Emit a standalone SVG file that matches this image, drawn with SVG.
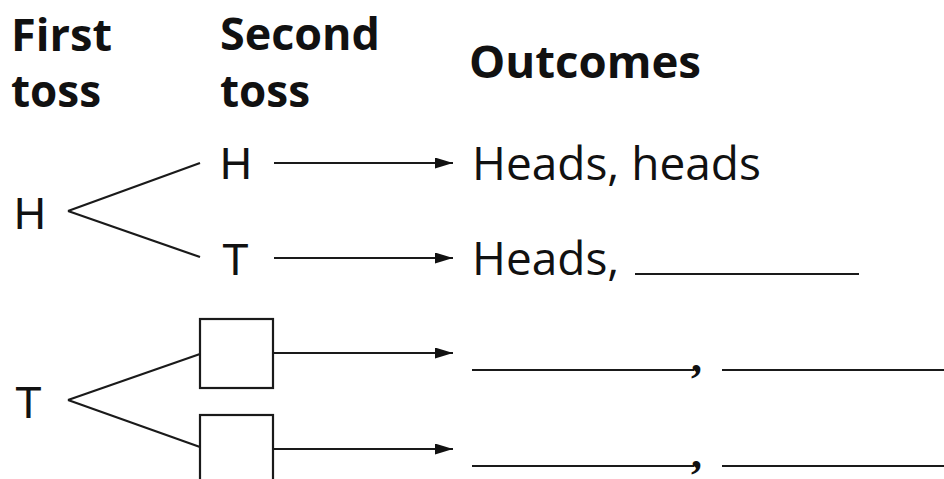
<svg xmlns="http://www.w3.org/2000/svg" width="944" height="479" viewBox="0 0 944 479">
<defs>
<style>
.hd{font-family:"Open Sans","Noto Sans",sans-serif;font-weight:700;font-size:44px;fill:#111}
.lb{font-family:"Liberation Sans",Arial,sans-serif;font-size:44px;fill:#111}
.oc{font-family:"Open Sans","Noto Sans",sans-serif;font-size:46px;fill:#111}
.cm{font-family:"Liberation Serif",serif;font-weight:700;font-size:44px;fill:#111}
.ln{stroke:#1a1a1a;stroke-width:2.2;fill:none}
.bl{stroke:#1a1a1a;stroke-width:2.2;fill:none}
.box{stroke:#1a1a1a;stroke-width:2.2;fill:#fff}
</style>
<marker id="ah" viewBox="0 0 18 11" refX="18" refY="5.5" markerWidth="18" markerHeight="11" markerUnits="userSpaceOnUse" orient="auto">
<path d="M0,0 L18,5.5 L0,11 Z" fill="#111"/>
</marker>
</defs>
<rect width="944" height="479" fill="#fff"/>
<g id="headers">
<text class="hd" x="11" y="51" textLength="101" lengthAdjust="spacingAndGlyphs">First</text>
<text class="hd" x="11" y="107">toss</text>
<text class="hd" x="220" y="50" textLength="160" lengthAdjust="spacingAndGlyphs">Second</text>
<text class="hd" x="220" y="107">toss</text>
<text class="hd" x="469" y="78" textLength="232" lengthAdjust="spacingAndGlyphs">Outcomes</text>
</g>
<g id="connectors">
<line class="ln" x1="68" y1="211" x2="200" y2="163"/>
<line class="ln" x1="68" y1="211" x2="200" y2="257"/>
<line class="ln" x1="68" y1="400" x2="200" y2="354"/>
<line class="ln" x1="68" y1="400" x2="200" y2="447"/>
<line class="ln" x1="274" y1="163" x2="453" y2="163" marker-end="url(#ah)"/>
<line class="ln" x1="274" y1="258" x2="453" y2="258" marker-end="url(#ah)"/>
<line class="ln" x1="273" y1="353" x2="453" y2="353" marker-end="url(#ah)"/>
<line class="ln" x1="273" y1="449" x2="453" y2="449" marker-end="url(#ah)"/>
</g>
<g id="first-H"><text class="lb" x="14" y="229">H</text></g>
<g id="first-T"><text class="lb" x="15" y="418">T</text></g>
<g id="second-H"><text class="lb" x="220" y="179">H</text></g>
<g id="second-T"><text class="lb" x="222" y="275">T</text></g>
<g id="box-1"><rect class="box" x="200" y="319" width="73" height="69"/></g>
<g id="box-2"><rect class="box" x="200" y="415" width="73" height="70"/></g>
<g id="outcome-1"><text class="oc" x="472" y="180">Heads, heads</text></g>
<g id="outcome-2"><text class="oc" x="472" y="275">Heads,</text><line class="bl" x1="635" y1="274" x2="859" y2="274"/></g>
<g id="outcome-3">
<line class="bl" x1="472" y1="370" x2="694" y2="370"/>
<text class="cm" x="691" y="372">,</text>
<line class="bl" x1="722" y1="370" x2="944" y2="370"/>
</g>
<g id="outcome-4">
<line class="bl" x1="472" y1="466" x2="694" y2="466"/>
<text class="cm" x="691" y="468">,</text>
<line class="bl" x1="722" y1="466" x2="944" y2="466"/>
</g>
</svg>
